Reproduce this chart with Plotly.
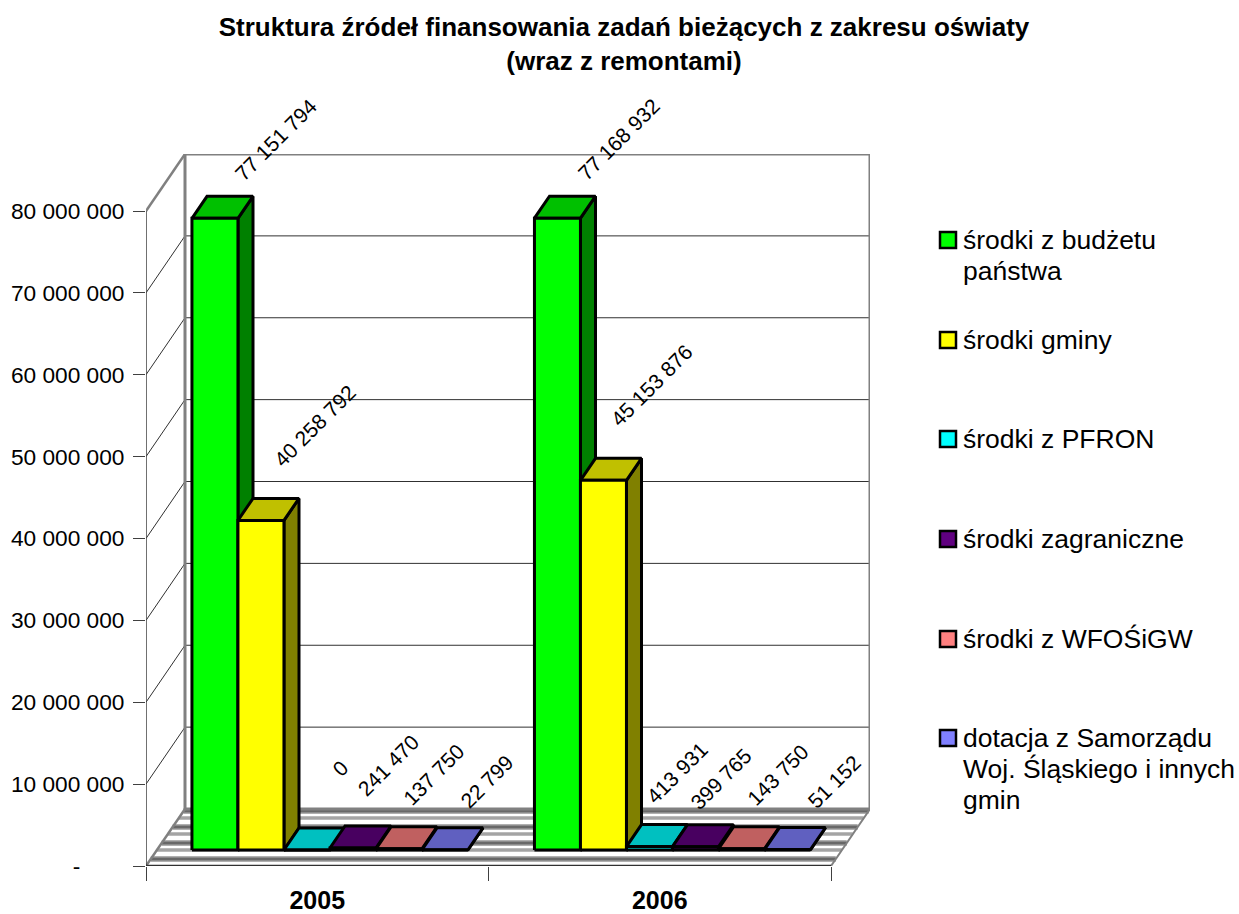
"""Struktura źródeł finansowania: faux-3D clustered columns drawn on one cartesian axis."""
import plotly.graph_objects as go

years = ["2005", "2006"]
series_names = [
    "środki z budżetu<br>państwa",
    "środki gminy",
    "środki z PFRON",
    "środki zagraniczne",
    "środki z WFOŚiGW",
    "dotacja z Samorządu<br>Woj. Śląskiego i innych<br>gmin",
]
values_2005 = [77151794, 40258792, 0, 241470, 137750, 22799]
values_2006 = [77168932, 45153876, 413931, 399765, 143750, 51152]
y_ticks = [0, 10000000, 20000000, 30000000, 40000000, 50000000, 60000000, 70000000, 80000000]
y_tick_text = ["-" + "\u00a0" * 7, "10 000 000", "20 000 000", "30 000 000", "40 000 000",
               "50 000 000", "60 000 000", "70 000 000", "80 000 000"]

front_colors = ["#00FF00", "#FFFF00", "#00FFFF", "#600080", "#FF8080", "#8080FF"]
top_colors = ["#00C000", "#C0C000", "#00C0C0", "#480060", "#C06060", "#6060C0"]
side_colors = ["#008000", "#808000", "#008080", "#300040", "#804040", "#404080"]

# pixel geometry of the reference
PLOT_L, PLOT_T, PLOT_R, PLOT_B = 146, 154, 870, 866
PX_X = 342.5      # px per category
PX_Y = 8.1875e-6  # px per unit
WALL_X = 39 / PX_X
WALL_Y = 57 / PX_Y
BAR_W = 46 / PX_X
BAR_START = 35 / PX_X
D_FRONT, D_BACK = 16 / 57, 38 / 57

# floor stripe depths (0 front, 1 back)
floor_thick = [0.965, 0.684, 0.404, 0.123]
floor_thin = [0.84, 0.56, 0.28]

# label offsets from top of each front face, px (right, up)
label_shift_2005 = [(61, 79), (54, 95), (33, 82), (35, 83), (35, 74), (42, 68)]
label_shift_2006 = [(61, 79), (48, 95), (28, 74), (26, 68), (37, 74), (47, 68)]


def pt(x, y, d):
    """Project a point at depth d (0 front, 1 back wall) onto the plane."""
    return x + d * WALL_X, y + d * WALL_Y


def poly(fig, pts, fill, name, line="#000000", width=3):
    fig.add_trace(go.Scatter(
        x=[p[0] for p in pts] + [pts[0][0]], y=[p[1] for p in pts] + [pts[0][1]],
        mode="lines", fill="toself", fillcolor=fill, name=name,
        line=dict(color=line, width=width), showlegend=False, hoverinfo="name",
    ))


def seg(fig, a, b, color, width):
    fig.add_trace(go.Scatter(
        x=[a[0], b[0]], y=[a[1], b[1]], mode="lines", cliponaxis=False,
        line=dict(color=color, width=width), showlegend=False, hoverinfo="skip",
    ))


fig = go.Figure()

# floor stripes
for d in floor_thin:
    seg(fig, pt(0, 0, d), pt(2, 0, d), "#a4a4a4", 3.5)
for d in floor_thick:
    seg(fig, pt(0, 0, d), pt(2, 0, d), "#b0b0b0", 6)
    seg(fig, pt(0, 0, d), pt(2, 0, d), "#686868", 3)

# walls
for t in y_ticks[1:-1]:
    seg(fig, pt(0, t, 0), pt(0, t, 1), "#303030", 1)
    seg(fig, pt(0, t, 1), pt(2, t, 1), "#303030", 1)
top = y_ticks[-1]
seg(fig, pt(0, 0, 0), pt(0, 0, 1), "#808080", 2.5)
seg(fig, pt(0, top, 0), pt(0, top, 1), "#808080", 2.5)
seg(fig, pt(0, 0, 1), pt(0, top, 1), "#808080", 3)
seg(fig, pt(0, top, 1), pt(2, top, 1), "#808080", 3)
seg(fig, pt(2, top, 1), pt(2, 0, 1), "#808080", 3)
seg(fig, pt(0, 0, 1), pt(2, 0, 1), "#808080", 3)
seg(fig, pt(2, 0, 1), pt(2, 0, 0), "#808080", 2)
seg(fig, pt(0, 0, 0), pt(0, top, 0), "#404040", 1.5)
seg(fig, pt(0, 0, 0), pt(2, 0, 0), "#303030", 2.5)

# columns, left to right so that each covers its neighbour's side face
for g, vals in enumerate([values_2005, values_2006]):
    for i, v in enumerate(vals):
        x0 = g + BAR_START + i * BAR_W
        x1 = x0 + BAR_W
        nm = series_names[i].replace("<br>", " ")
        poly(fig, [pt(x1, 0, D_FRONT), pt(x1, 0, D_BACK), pt(x1, v, D_BACK), pt(x1, v, D_FRONT)],
             side_colors[i], nm)
        poly(fig, [pt(x0, v, D_FRONT), pt(x1, v, D_FRONT), pt(x1, v, D_BACK), pt(x0, v, D_BACK)],
             top_colors[i], nm)
        poly(fig, [pt(x0, 0, D_FRONT), pt(x1, 0, D_FRONT), pt(x1, v, D_FRONT), pt(x0, v, D_FRONT)],
             front_colors[i], nm)

# rotated value labels
annotations = []
for g, (vals, shifts) in enumerate([(values_2005, label_shift_2005), (values_2006, label_shift_2006)]):
    for i, v in enumerate(vals):
        cx, cy = pt(g + BAR_START + (i + 0.5) * BAR_W, v, D_FRONT)
        annotations.append(dict(
            x=cx, y=cy, xref="x", yref="y", text=f"{v:,}".replace(",", " "),
            textangle=-45, showarrow=False, xshift=shifts[i][0], yshift=shifts[i][1],
            font=dict(size=21, color="#000000"),
        ))

# legend, laid out by hand because Excel spaces entries evenly whatever their line count
W, H = PLOT_R - PLOT_L, PLOT_B - PLOT_T
LINE_PITCH = 31
shapes = []
legend_y = [240, 340, 439, 539, 639, 738]
for i, name in enumerate(series_names):
    ly = legend_y[i]
    shapes.append(dict(
        type="rect", xref="paper", yref="paper",
        x0=(940 - PLOT_L) / W, x1=(956 - PLOT_L) / W,
        y0=(PLOT_B - ly - 8) / H, y1=(PLOT_B - ly + 8) / H,
        fillcolor=front_colors[i], line=dict(color="#000000", width=2.5),
    ))
    for j, line in enumerate(name.split("<br>")):
        annotations.append(dict(
            x=(961 - PLOT_L) / W, y=(PLOT_B - ly - j * LINE_PITCH) / H,
            xref="paper", yref="paper", text=line, showarrow=False,
            xanchor="left", yanchor="middle", align="left",
            font=dict(size=26.5, color="#000000"),
        ))

fig.update_layout(
    width=1239, height=914,
    margin=dict(l=PLOT_L, r=1239 - PLOT_R, t=PLOT_T, b=914 - PLOT_B, autoexpand=False),
    paper_bgcolor="#ffffff", plot_bgcolor="#ffffff",
    font=dict(family="Liberation Sans, Arial, sans-serif", color="#000000"),
    title=dict(
        text="<b>Struktura źródeł finansowania zadań bieżących z zakresu oświaty<br>(wraz z remontami)</b>",
        x=624 / 1239, xanchor="center", y=1 - 36 / 914, yanchor="top",
        font=dict(size=26),
    ),
    showlegend=False,
    xaxis=dict(
        range=[0, 2 + WALL_X], tickmode="array", tickvals=[0.5, 1.5], ticktext=years,
        tickfont=dict(size=25, weight="bold"), ticks="", showgrid=False, zeroline=False,
        showline=False, ticklabelstandoff=17,
        minor=dict(tickmode="array", tickvals=[0, 1, 2], ticks="outside", ticklen=14,
                   tickcolor="#404040", tickwidth=1, showgrid=False),
    ),
    yaxis=dict(
        range=[0, 80000000 + WALL_Y], tickmode="array", tickvals=y_ticks, ticktext=y_tick_text,
        tickfont=dict(size=22.7), ticks="outside", ticklen=12, tickcolor="#404040", tickwidth=1,
        showgrid=False, zeroline=False, showline=False, ticklabelstandoff=4,
    ),
    annotations=annotations,
    shapes=shapes,
)

fig.write_html("out.html", config=dict(displayModeBar=False),
               post_script="document.body.style.margin='0';")
